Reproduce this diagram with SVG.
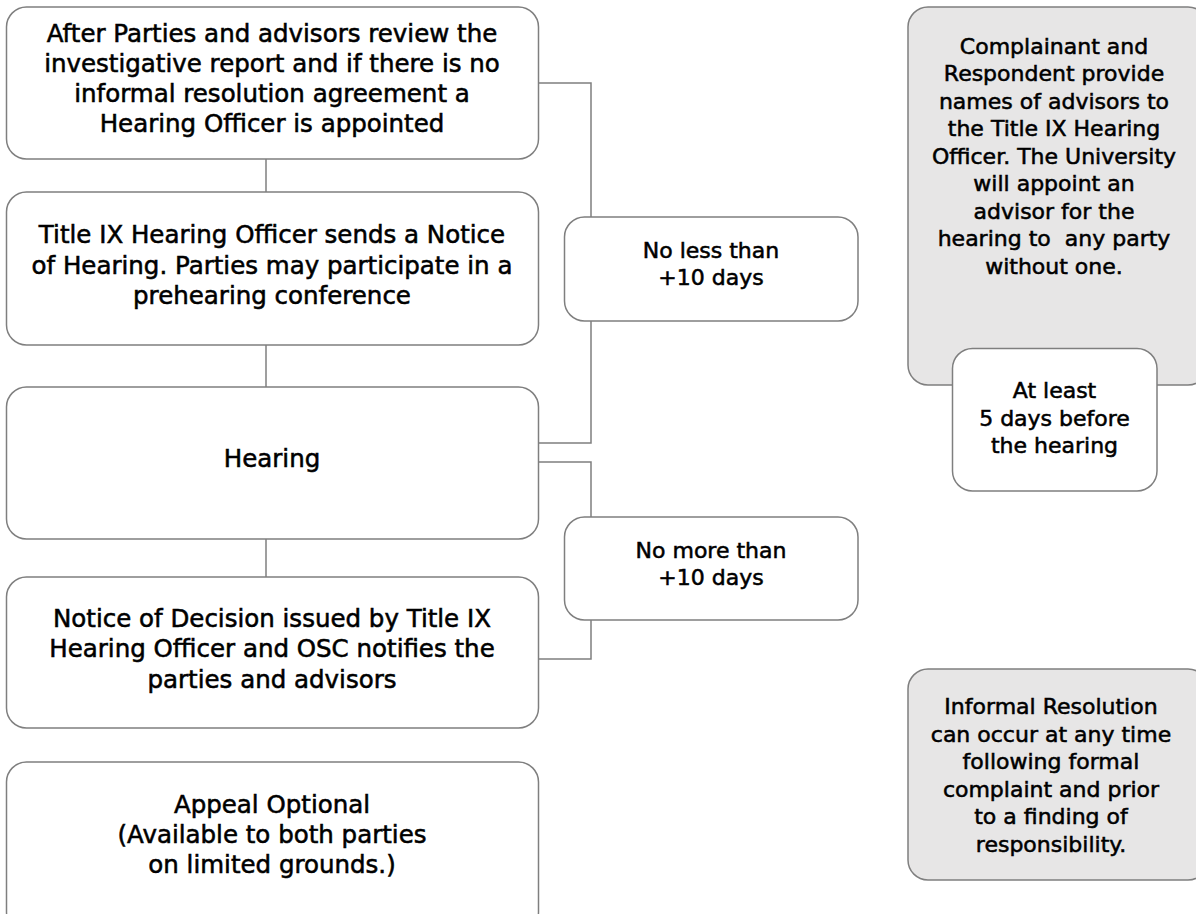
<svg xmlns="http://www.w3.org/2000/svg" width="1196" height="914" viewBox="0 0 1196 914">
<style>
.box{fill:#ffffff;stroke:#7f7f7f;stroke-width:1.5}
.gray{fill:#e7e6e6;stroke:#7f7f7f;stroke-width:1.5}
.con{fill:none;stroke:#7f7f7f;stroke-width:1.5}
text{font-family:"DejaVu Sans",sans-serif;fill:#000;stroke:#000;stroke-width:0.55;text-anchor:middle}
.m{font-size:24.5px}
.s{font-size:22px}
</style>
<rect width="1196" height="914" fill="#ffffff"/>
<g id="connectors">
<line class="con" x1="266" y1="159" x2="266" y2="192"/>
<line class="con" x1="266" y1="345" x2="266" y2="387"/>
<line class="con" x1="266" y1="539" x2="266" y2="577"/>
<polyline class="con" points="538,83 591,83 591,443 538,443"/>
<polyline class="con" points="538,462 591,462 591,659 538,659"/>
</g>
<g id="n1">
<rect class="box" x="6.5" y="7" width="532" height="152" rx="20"/>
<text class="m" x="272" y="42">After Parties and advisors review the</text>
<text class="m" x="272" y="72">investigative report and if there is no</text>
<text class="m" x="272" y="102">informal resolution agreement a</text>
<text class="m" x="272" y="132">Hearing Officer is appointed</text>
</g>
<g id="n2">
<rect class="box" x="6.5" y="192" width="532" height="153" rx="20"/>
<text class="m" x="272" y="243">Title IX Hearing Officer sends a Notice</text>
<text class="m" x="272" y="273.5">of Hearing. Parties may participate in a</text>
<text class="m" x="272" y="304">prehearing conference</text>
</g>
<g id="n3">
<rect class="box" x="6.5" y="387" width="532" height="152" rx="20"/>
<text class="m" x="272" y="467">Hearing</text>
</g>
<g id="n4">
<rect class="box" x="6.5" y="577" width="532" height="151" rx="20"/>
<text class="m" x="272" y="627">Notice of Decision issued by Title IX</text>
<text class="m" x="272" y="657">Hearing Officer and OSC notifies the</text>
<text class="m" x="272" y="688">parties and advisors</text>
</g>
<g id="n5">
<rect class="box" x="6.5" y="762" width="532" height="170" rx="20"/>
<text class="m" x="272" y="813">Appeal Optional</text>
<text class="m" x="272" y="843">(Available to both parties</text>
<text class="m" x="272" y="873">on limited grounds.)</text>
</g>
<g id="l1">
<rect class="box" x="564.5" y="217" width="293.5" height="104" rx="20"/>
<text class="s" x="711" y="258">No less than</text>
<text class="s" x="711" y="285">+10 days</text>
</g>
<g id="l2">
<rect class="box" x="564.5" y="517" width="293.5" height="103" rx="20"/>
<text class="s" x="711" y="558">No more than</text>
<text class="s" x="711" y="585">+10 days</text>
</g>
<g id="advisors">
<rect class="gray" x="908" y="7" width="300" height="378" rx="20"/>
<text class="s" x="1054" y="53.5">Complainant and</text>
<text class="s" x="1054" y="81">Respondent provide</text>
<text class="s" x="1054" y="108.5">names of advisors to</text>
<text class="s" x="1054" y="136">the Title IX Hearing</text>
<text class="s" x="1054" y="163.5">Officer. The University</text>
<text class="s" x="1054" y="191">will appoint an</text>
<text class="s" x="1054" y="218.5">advisor for the</text>
<text class="s" x="1054" y="246" xml:space="preserve">hearing to  any party</text>
<text class="s" x="1054" y="273.5">without one.</text>
</g>
<g id="atleast">
<rect class="box" x="952.5" y="348.5" width="204.5" height="142.5" rx="20"/>
<text class="s" x="1054.5" y="397.5">At least</text>
<text class="s" x="1054.5" y="425.5">5 days before</text>
<text class="s" x="1054.5" y="453">the hearing</text>
</g>
<g id="informal">
<rect class="gray" x="908" y="669" width="300" height="211" rx="20"/>
<text class="s" x="1051" y="714">Informal Resolution</text>
<text class="s" x="1051" y="741.5">can occur at any time</text>
<text class="s" x="1051" y="769">following formal</text>
<text class="s" x="1051" y="796.5">complaint and prior</text>
<text class="s" x="1051" y="824">to a finding of</text>
<text class="s" x="1051" y="851.5">responsibility.</text>
</g>
</svg>
